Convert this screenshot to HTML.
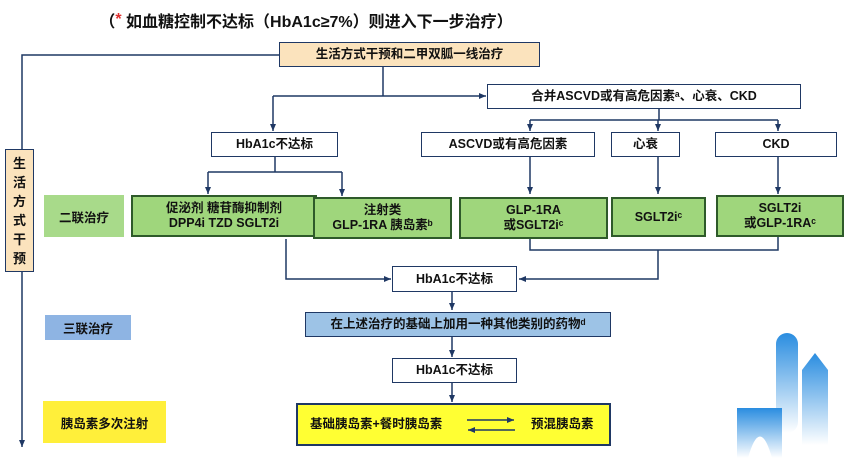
<!DOCTYPE html>
<html><head><meta charset="utf-8"><style>
body{margin:0;width:850px;height:458px;background:#fff;position:relative;overflow:hidden;font-family:"Liberation Sans","Noto Sans CJK SC",sans-serif;font-weight:bold;color:#111}
.b{position:absolute;box-sizing:border-box;display:flex;align-items:center;justify-content:center;text-align:center;font-size:12.5px;line-height:15px;border:1.5px solid #1f3864;background:#fff}
.g{background:#9fd67c;border:2px solid #2e5a2a}
.l{position:absolute;display:flex;align-items:center;justify-content:center;font-size:12.5px}
svg{position:absolute;left:0;top:0}
</style></head><body>
<div class="l" style="left:76px;top:8px;width:460px;height:24px;font-size:16px">（<span style="color:#e03030">*</span>&nbsp;如血糖控制不达标（HbA1c≥7%）则进入下一步治疗）</div>
<svg width="850" height="458" viewBox="0 0 850 458">
<defs><marker id="a" markerWidth="8" markerHeight="8" refX="7" refY="4" orient="auto" markerUnits="userSpaceOnUse"><path d="M0,1 L7,4 L0,7 z" fill="#1f3864"/></marker></defs>
<g stroke="#1f3864" stroke-width="1.5" fill="none">
<path d="M279,55 H22 V149"/>
<path d="M22,272 V447" marker-end="url(#a)"/>
<path d="M383,66 V96"/>
<path d="M273,96 H486" marker-end="url(#a)"/>
<path d="M273,96 V131" marker-end="url(#a)"/>
<path d="M659,109 V120"/>
<path d="M530,120 H778"/>
<path d="M530,120 V131" marker-end="url(#a)"/>
<path d="M658,120 V131" marker-end="url(#a)"/>
<path d="M778,120 V131" marker-end="url(#a)"/>
<path d="M275,157 V172" />
<path d="M208,172 H342"/>
<path d="M208,172 V194" marker-end="url(#a)"/>
<path d="M342,172 V196" marker-end="url(#a)"/>
<path d="M530,157 V194" marker-end="url(#a)"/>
<path d="M658,157 V194" marker-end="url(#a)"/>
<path d="M778,157 V194" marker-end="url(#a)"/>
<path d="M286,239 V279 H391" marker-end="url(#a)"/>
<path d="M530,239 V250 H778 V237"/>
<path d="M658,250 V279 H519" marker-end="url(#a)"/>
<path d="M452,292 V310" marker-end="url(#a)"/>
<path d="M452,337 V357" marker-end="url(#a)"/>
<path d="M452,383 V402" marker-end="url(#a)"/>
</g>
<defs>
<linearGradient id="t" x1="0" y1="0" x2="0" y2="1"><stop offset="0" stop-color="#2a8de0"/><stop offset="1" stop-color="#fff"/></linearGradient>
</defs>
<rect x="776" y="333" width="22" height="100" rx="11" fill="url(#t)"/>
<path d="M737,408 H782 V458 H772 Q760,415 748,458 H737 Z" fill="url(#t)"/>
<path d="M802,370 L815,353 L828,370 V445 H802 Z" fill="url(#t)"/>
</svg>
<div class="b" style="left:279px;top:42px;width:261px;height:25px;background:#fbe3bd">生活方式干预和二甲双胍一线治疗</div>
<div class="b" style="left:5px;top:149px;width:29px;height:123px;background:#fbe3bd;font-size:13px;line-height:19px;flex-direction:column">生<br>活<br>方<br>式<br>干<br>预</div>
<div class="b" style="left:487px;top:84px;width:314px;height:25px">合并ASCVD或有高危因素ᵃ、心衰、CKD</div>
<div class="b" style="left:211px;top:132px;width:127px;height:25px">HbA1c不达标</div>
<div class="b" style="left:421px;top:132px;width:174px;height:25px">ASCVD或有高危因素</div>
<div class="b" style="left:611px;top:132px;width:69px;height:25px">心衰</div>
<div class="b" style="left:715px;top:132px;width:122px;height:25px">CKD</div>
<div class="l" style="left:44px;top:195px;width:80px;height:42px;background:#a8da8a">二联治疗</div>
<div class="b g" style="left:131px;top:195px;width:186px;height:42px">促泌剂 糖苷酶抑制剂<br>DPP4i TZD SGLT2i</div>
<div class="b g" style="left:313px;top:197px;width:139px;height:42px">注射类<br>GLP-1RA 胰岛素ᵇ</div>
<div class="b g" style="left:459px;top:197px;width:149px;height:42px">GLP-1RA<br>或SGLT2iᶜ</div>
<div class="b g" style="left:611px;top:197px;width:95px;height:40px">SGLT2iᶜ</div>
<div class="b g" style="left:716px;top:195px;width:128px;height:42px">SGLT2i<br>或GLP-1RAᶜ</div>
<div class="b" style="left:392px;top:266px;width:125px;height:26px">HbA1c不达标</div>
<div class="l" style="left:45px;top:315px;width:86px;height:25px;background:#8eb4e3">三联治疗</div>
<div class="b" style="left:305px;top:312px;width:306px;height:25px;background:#9dc3e6">在上述治疗的基础上加用一种其他类别的药物ᵈ</div>
<div class="b" style="left:392px;top:358px;width:125px;height:25px">HbA1c不达标</div>
<div class="l" style="left:43px;top:401px;width:123px;height:42px;background:#ffef3a">胰岛素多次注射</div>
<div class="b" style="left:296px;top:403px;width:315px;height:43px;background:#ffff33;border-width:2px;justify-content:flex-start"><span style="position:absolute;left:12px">基础胰岛素+餐时胰岛素</span><span style="position:absolute;left:233px">预混胰岛素</span></div>
<svg width="850" height="458" viewBox="0 0 850 458" style="z-index:2">
<defs><marker id="a2" markerWidth="8" markerHeight="8" refX="7" refY="4" orient="auto" markerUnits="userSpaceOnUse"><path d="M0,1 L7,4 L0,7 z" fill="#1f3864"/></marker></defs>
<g stroke="#1f3864" stroke-width="1.5" fill="none">
<path d="M467,420 H514" marker-end="url(#a2)"/>
<path d="M515,430 H468" marker-end="url(#a2)"/>
</g>
</svg>
</body></html>
